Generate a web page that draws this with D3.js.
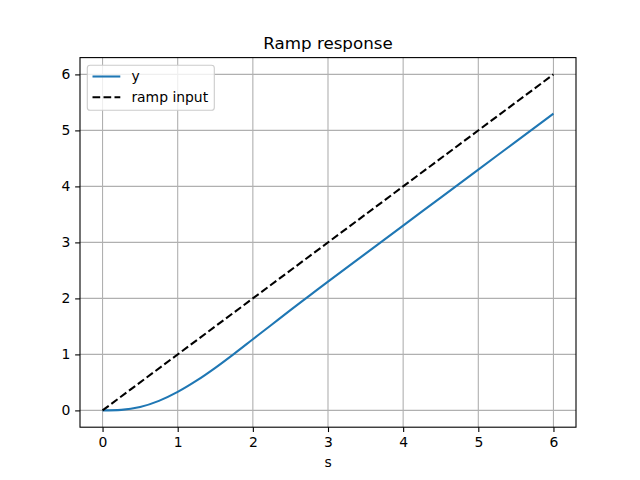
<!DOCTYPE html>
<html><head><meta charset="utf-8">
<script src="https://cdn.jsdelivr.net/npm/d3@7"></script>
<style>body{margin:0;background:#fff}svg{display:block}text{font-family:"DejaVu Sans",sans-serif}</style>
</head><body>
<svg id="c" width="640" height="480"></svg>
<script>
const tValues = [0,0.25,0.5,0.75,1.0,1.25,1.5,1.75,2.0,2.25,2.5,2.75,3.0,3.5,4.0,4.5,5.0,5.5,6.0];
const yValues = [0,0.01,0.06,0.17,0.33,0.53,0.76,1.01,1.27,1.53,1.79,2.045,2.30,2.80,3.30,3.80,4.30,4.80,5.30];
const rampT = [0,6];
const rampValues = [0,6];
const xTicks = [0,1,2,3,4,5,6];
const yTicks = [0,1,2,3,4,5,6];
const seriesNames = ["y","ramp input"];
const titleText = "Ramp response";
const xLabel = "s";

const svg = d3.select("#c");
const L=80,R=576,T=57.6,B=427.2;
const x = d3.scaleLinear().domain([-0.3,6.3]).range([L,R]);
const y = d3.scaleLinear().domain([-0.3,6.3]).range([B,T]);

// grid
const g = svg.append("g");
g.selectAll(".gx").data(xTicks).enter().append("line")
 .attr("x1",d=>x(d)).attr("x2",d=>x(d)).attr("y1",T).attr("y2",B)
 .attr("stroke","#b0b0b0").attr("stroke-width",1.1);
g.selectAll(".gy").data(yTicks).enter().append("line")
 .attr("y1",d=>y(d)).attr("y2",d=>y(d)).attr("x1",L).attr("x2",R)
 .attr("stroke","#b0b0b0").attr("stroke-width",1.1);

// lines
const line = d3.line().x(d=>x(d[0])).y(d=>y(d[1])).curve(d3.curveMonotoneX);
svg.append("path").datum(tValues.map((t,i)=>[t,yValues[i]]))
 .attr("d",line).attr("fill","none").attr("stroke","#1f77b4").attr("stroke-width",2.08);
svg.append("path").datum(rampT.map((t,i)=>[t,rampValues[i]]))
 .attr("d",d3.line().x(d=>x(d[0])).y(d=>y(d[1]))).attr("fill","none")
 .attr("stroke","#000").attr("stroke-width",2.08).attr("stroke-dasharray","7.7,3.3");

// axes
const xa = svg.append("g").attr("transform",`translate(0,${B})`)
 .call(d3.axisBottom(x).tickValues(xTicks).tickFormat(d3.format("d")).tickSize(4.86).tickPadding(4.9));
const ya = svg.append("g").attr("transform",`translate(${L},0)`)
 .call(d3.axisLeft(y).tickValues(yTicks).tickFormat(d3.format("d")).tickSize(4.86).tickPadding(4.9));
[xa,ya].forEach(a=>{a.select(".domain").remove();
 a.selectAll("line").attr("stroke","#000").attr("stroke-width",1.1);
 a.selectAll("text").attr("font-size",13.9).attr("fill","#000").attr("font-family","DejaVu Sans");});
svg.append("rect").attr("x",L).attr("y",T).attr("width",R-L).attr("height",B-T)
 .attr("fill","none").attr("stroke","#000").attr("stroke-width",1.1);

svg.append("text").attr("x",(L+R)/2).attr("y",49).attr("text-anchor","middle")
 .attr("font-size",16.7).text(titleText);
svg.append("text").attr("x",(L+R)/2).attr("y",467).attr("text-anchor","middle")
 .attr("font-size",13.9).text(xLabel);

// legend
const lg = svg.append("g");
lg.append("rect").attr("x",87.3).attr("y",65.3).attr("width",127).attr("height",45)
 .attr("rx",2.8).attr("fill","#fff").attr("fill-opacity",0.8).attr("stroke","#ccc").attr("stroke-width",1.1);
const styles=[{c:"#1f77b4",d:null},{c:"#000",d:"7.7,3.3"}];
seriesNames.forEach((n,i)=>{
 const yy = 76.5 + i*20.8;
 lg.append("line").attr("x1",92.5).attr("x2",120.3).attr("y1",yy).attr("y2",yy)
  .attr("stroke",styles[i].c).attr("stroke-width",2.08).attr("stroke-dasharray",styles[i].d);
 lg.append("text").attr("x",131.4).attr("y",yy+4.9).attr("font-size",13.9).text(n);
});
</script>
</body></html>
